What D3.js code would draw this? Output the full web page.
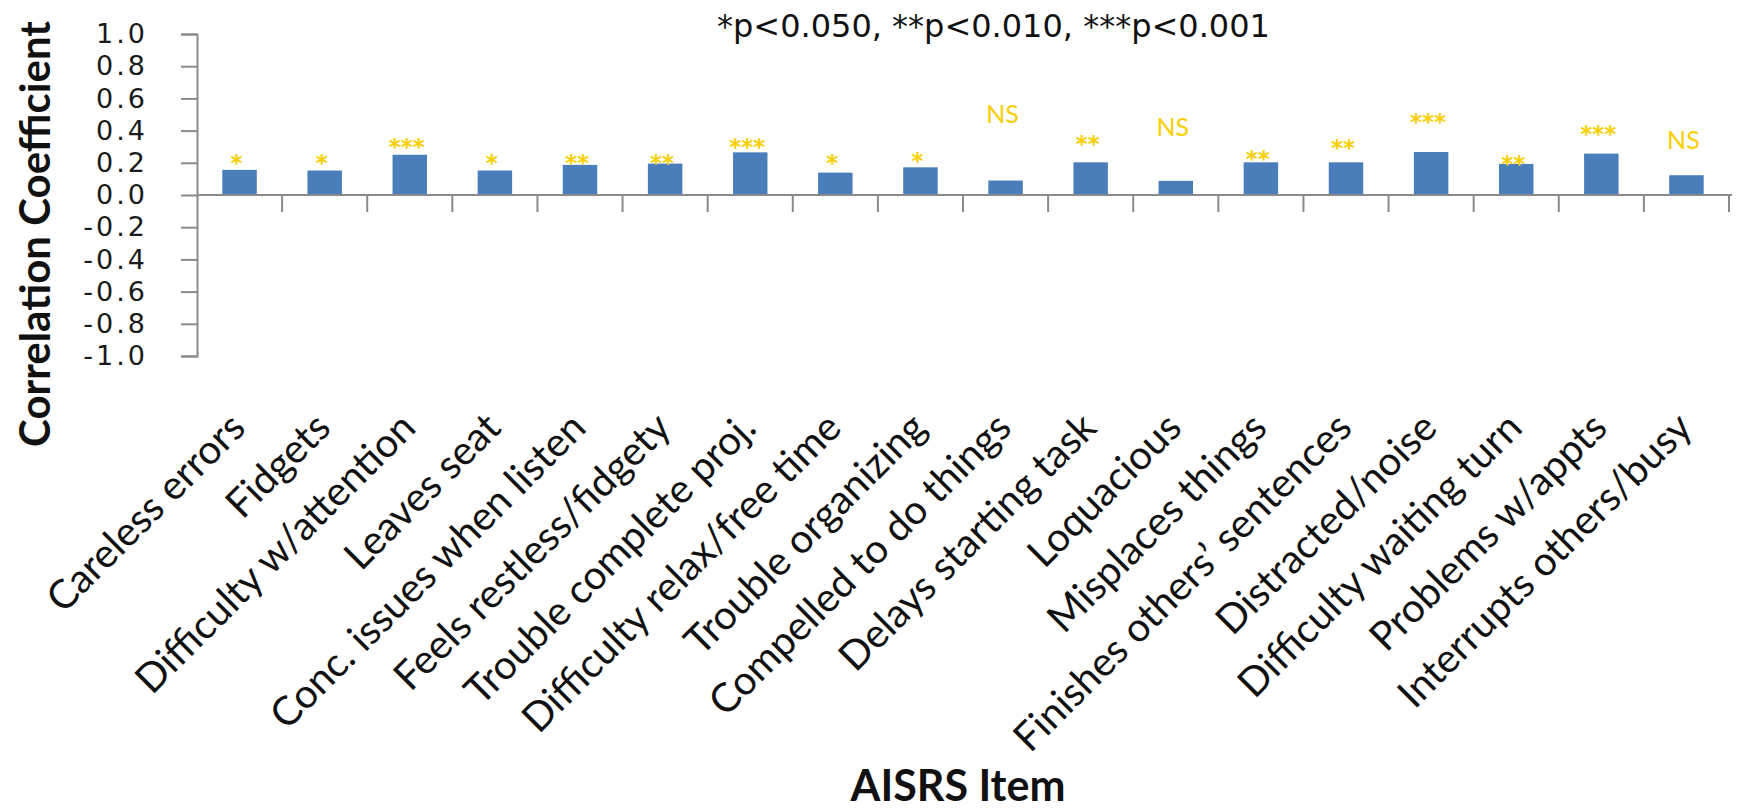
<!DOCTYPE html>
<html lang="en">
<head>
<meta charset="utf-8">
<title>AISRS item correlations</title>
<script src="https://d3js.org/d3.v7.min.js"></script>
<style>
  body { margin: 0; background: #fff; }
</style>
</head>
<body>
<script>
// values
var items = ["Careless errors", "Fidgets", "Difficulty w/attention", "Leaves seat",
             "Conc. issues when listen", "Feels restless/fidgety", "Trouble complete proj.",
             "Difficulty relax/free time", "Trouble organizing", "Compelled to do things",
             "Delays starting task", "Loquacious", "Misplaces things",
             "Finishes others\u2019 sentences", "Distracted/noise", "Difficulty waiting turn",
             "Problems w/appts", "Interrupts others/busy"];
var coefficients = [0.156, 0.152, 0.25, 0.152, 0.187, 0.195, 0.265, 0.139, 0.172,
                    0.09, 0.203, 0.088, 0.203, 0.203, 0.267, 0.193, 0.257, 0.123];
var significance = ["*", "*", "***", "*", "**", "**", "***", "*", "*",
                    "NS", "**", "NS", "**", "**", "***", "**", "***", "NS"];
// height (in coefficient units) where each significance mark sits
var markLevel = [0.23, 0.23, 0.327, 0.23, 0.23, 0.23, 0.327, 0.23, 0.24,
                 0.505, 0.348, 0.422, 0.255, 0.323, 0.484, 0.224, 0.41, 0.339];
var yTickValues = [1.0, 0.8, 0.6, 0.4, 0.2, 0.0, -0.2, -0.4, -0.6, -0.8, -1.0];
var pLegend = "*p<0.050, **p<0.010, ***p<0.001";

var width = 1738;
var height = 811;

var svg = d3.select("body")
            .append("svg")
            .attr("width", width)
            .attr("height", height);

var x = d3.scaleBand()
          .domain(items)
          .range([197, 1729])
          .paddingInner(0.595)
          .paddingOuter(0.2975);

var y = d3.scaleLinear()
          .domain([-1, 1])
          .range([356, 34]);

var axisColor = "#8a8a8a";

// y axis
var yAxis = svg.append("g")
               .attr("transform", "translate(197,0)")
               .call(d3.axisLeft(y)
                       .tickValues(yTickValues)
                       .tickFormat(function(d) { return d.toFixed(1); })
                       .tickSize(16)
                       .tickPadding(33));
yAxis.select(".domain").attr("stroke", axisColor).attr("stroke-width", 2);
yAxis.selectAll(".tick line").attr("stroke", axisColor).attr("stroke-width", 2);
yAxis.selectAll(".tick text")
     .attr("fill", "#1a1a1a")
     .style("font-family", "'DejaVu Sans', sans-serif")
     .style("font-size", "27px")
     .style("letter-spacing", "3px");

// bars
svg.selectAll("rect.bar")
   .data(coefficients)
   .enter()
   .append("rect")
   .attr("class", "bar")
   .attr("x", function(d, i) { return x(items[i]); })
   .attr("width", x.bandwidth())
   .attr("y", function(d) { return y(Math.max(0, d)); })
   .attr("height", function(d) { return Math.abs(y(d) - y(0)); })
   .attr("fill", "#4a7ebb");

// x axis line at zero, with ticks between categories
var step = x.step();
var x0 = x.range()[0];
svg.append("line")
   .attr("x1", x0).attr("x2", x.range()[1] + 3)
   .attr("y1", y(0)).attr("y2", y(0))
   .attr("stroke", axisColor).attr("stroke-width", 2);
svg.selectAll("line.xtick")
   .data(items)
   .enter()
   .append("line")
   .attr("class", "xtick")
   .attr("x1", function(d, i) { return x0 + (i + 1) * step; })
   .attr("x2", function(d, i) { return x0 + (i + 1) * step; })
   .attr("y1", y(0))
   .attr("y2", y(0) + 17)
   .attr("stroke", axisColor).attr("stroke-width", 2);

// significance marks
svg.selectAll("text.sig")
   .data(significance)
   .enter()
   .append("text")
   .attr("class", "sig")
   .attr("x", function(d, i) { return x(items[i]) + x.bandwidth() / 2 - 3; })
   .attr("y", function(d, i) {
       // stars sit high in the em box, NS is capitals
       return y(markLevel[i]) + (d == "NS" ? 9 : 13);
   })
   .attr("text-anchor", "middle")
   .attr("fill", "#f7cf00")
   .style("font-family", function(d) { return d == "NS" ? "Lato, sans-serif" : "'DejaVu Sans', sans-serif"; })
   .style("font-weight", function(d) { return d == "NS" ? "normal" : "bold"; })
   .style("font-size", function(d) { return d == "NS" ? "25px" : "23px"; })
   .text(function(d) { return d; });

// category labels
svg.selectAll("text.cat")
   .data(items)
   .enter()
   .append("text")
   .attr("class", "cat")
   .attr("transform", function(d) {
       return "translate(" + (x(d) + x.bandwidth() / 2 + 8) + ",430) rotate(-45)";
   })
   .attr("text-anchor", "end")
   .attr("fill", "#111")
   .style("font-family", "Lato, sans-serif")
   .style("font-size", "40px")
   .text(function(d) { return d; });

// legend for p values
svg.append("text")
   .attr("x", 717)
   .attr("y", 37)
   .attr("fill", "#111")
   .style("font-family", "'DejaVu Sans', sans-serif")
   .style("font-size", "32px")
   .text(pLegend);

// axis titles
svg.append("text")
   .attr("transform", "translate(50,234) rotate(-90)")
   .attr("text-anchor", "middle")
   .attr("fill", "#111")
   .style("font-family", "Lato, sans-serif")
   .style("font-weight", "bold")
   .style("font-size", "42px")
   .text("Correlation Coefficient");

svg.append("text")
   .attr("x", 958)
   .attr("y", 801)
   .attr("text-anchor", "middle")
   .attr("fill", "#111")
   .style("font-family", "Lato, sans-serif")
   .style("font-weight", "bold")
   .style("font-size", "43px")
   .text("AISRS Item");
</script>
</body>
</html>
